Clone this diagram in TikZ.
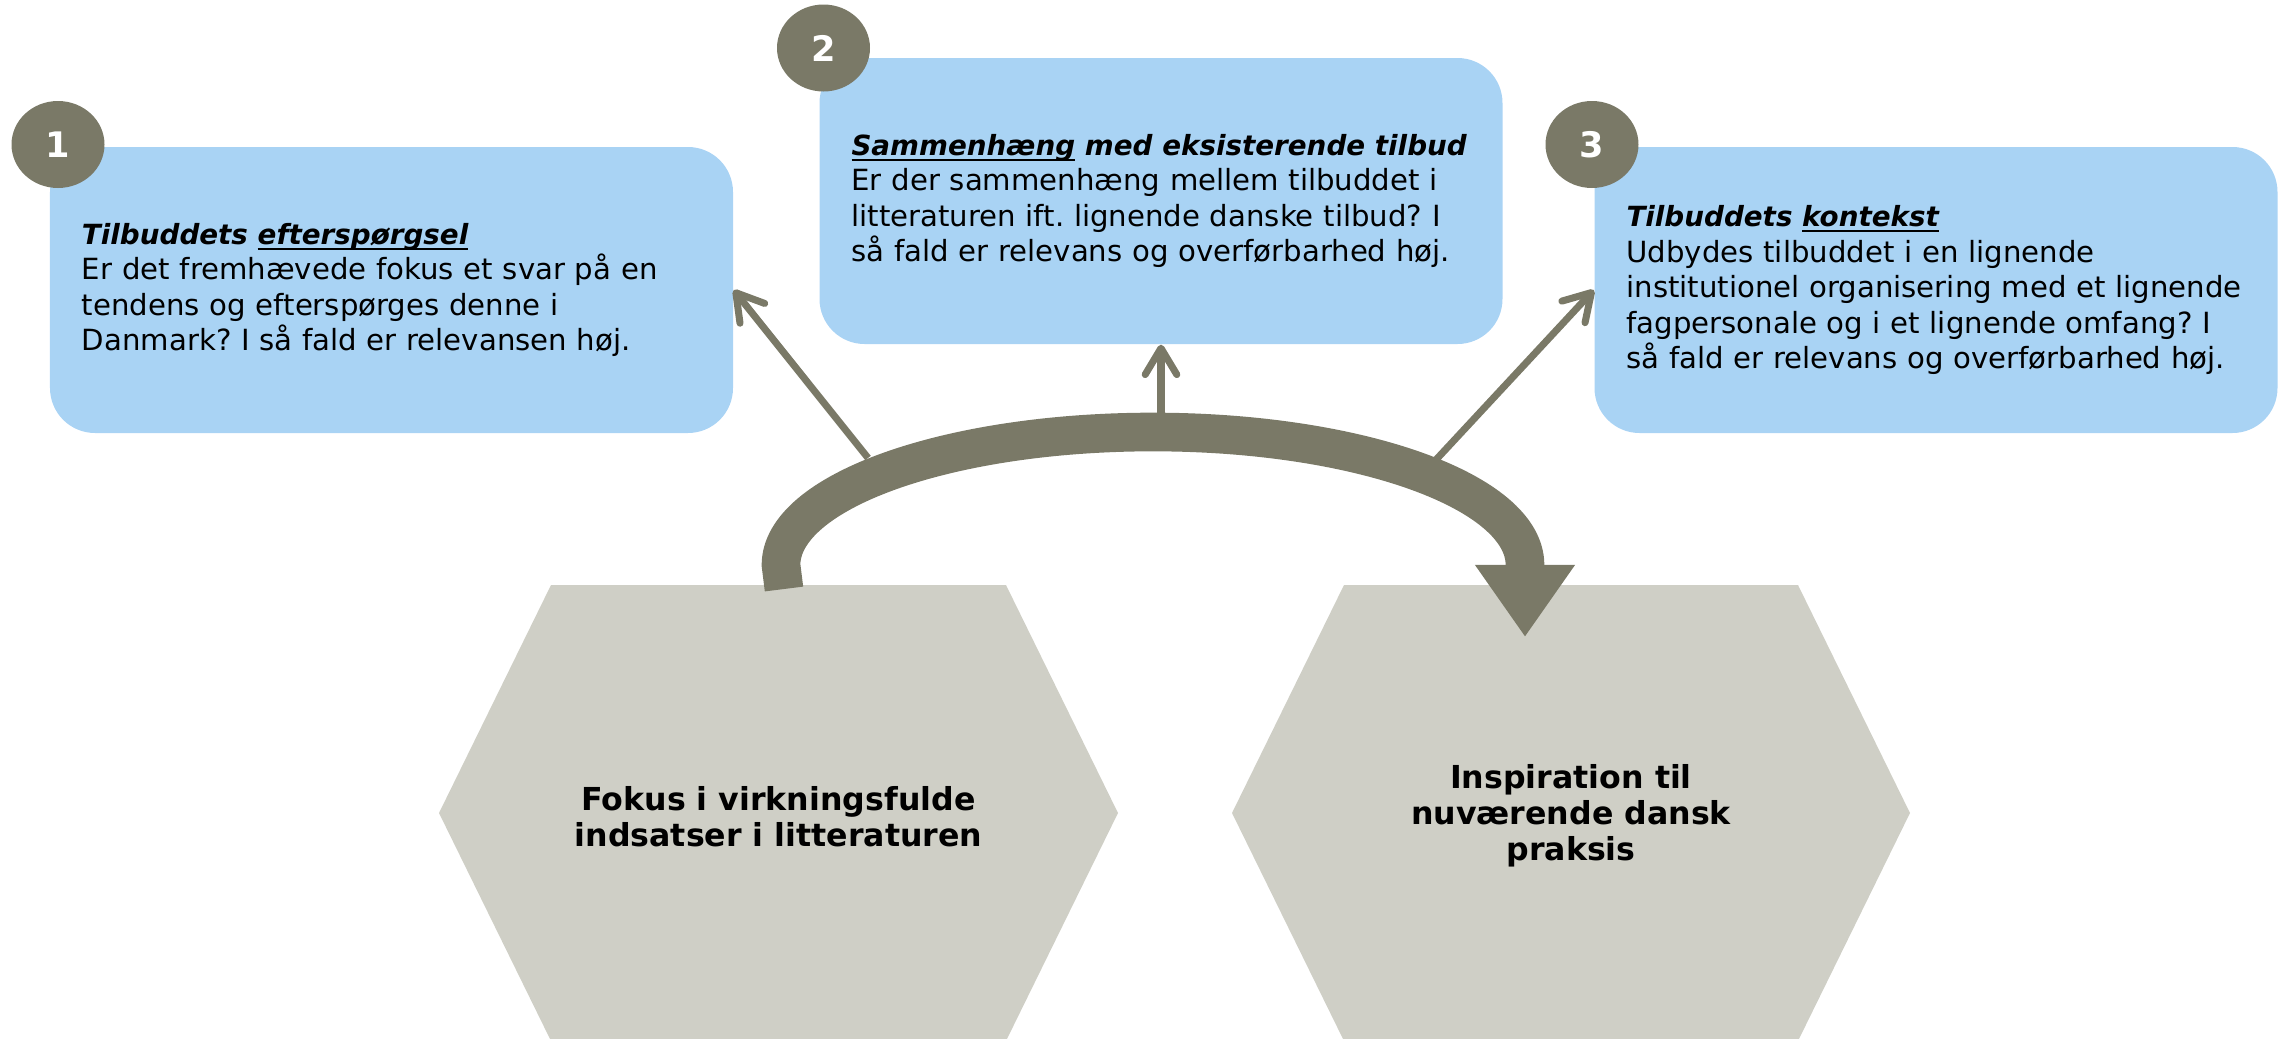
\documentclass[tikz,border=0pt]{standalone}
\usepackage{fontspec}
\setmainfont{DejaVu Sans}
\usetikzlibrary{arrows.meta}
\usetikzlibrary{shapes.geometric}
\definecolor{boxblue}{RGB}{169,211,244}
\definecolor{greyolive}{RGB}{122,121,103}
\definecolor{hexgrey}{RGB}{207,207,198}
\newcommand{\ulword}[1]{\leavevmode\setbox0\hbox{#1}\rlap{\rule[-1.5pt]{\wd0}{0.55pt}}\box0\relax}
\frenchspacing

\begin{document}
\begin{tikzpicture}
\tikzset{box/.style = {fill=boxblue, rounded corners=0.45cm, minimum width=6.83cm, minimum height=2.86cm, text width=6.19cm, inner xsep=0.32cm, align=left, font=\fontsize{8.3}{10.1}\selectfont}}
\tikzset{num/.style = {ellipse, fill=greyolive, minimum width=0.93cm, minimum height=0.87cm, inner sep=0pt, text=white, font=\fontsize{10}{12}\selectfont\bfseries}}
\tikzset{hexlabel/.style = {align=center, font=\fontsize{9}{10.3}\selectfont\bfseries}}
\tikzset{pointer/.style = {draw=greyolive, line width=2pt, -{Straight Barb[length=7.5pt,width=9pt,round]}}}
\tikzset{loop/.style = {draw=greyolive, line width=11pt, -{Triangle[length=20.5pt,width=27pt]}}}
\useasboundingbox (0,0) rectangle (22.85,10.38);
\fill[hexgrey] (5.51,4.53) -- (10.06,4.53) -- (11.18,2.25) -- (10.06,-0.03) -- (5.51,-0.03) -- (4.39,2.25) -- cycle;
\fill[hexgrey] (13.44,4.53) -- (17.98,4.53) -- (19.10,2.25) -- (17.98,-0.03) -- (13.44,-0.03) -- (12.32,2.25) -- cycle;
\node[hexlabel](focus) at (7.785,2.21) {Fokus i virkningsfulde\\indsatser i litteraturen};
\node[hexlabel](inspiration) at (15.71,2.22) {Inspiration til\\nuværende dansk\\praksis};
\node[box](demand) at (3.915,7.48) {{\fontsize{7.9}{10.1}\selectfont\bfseries\itshape Tilbuddets \ulword{efterspørgsel}}\\Er det fremhævede fokus et svar på en\\tendens og efterspørges denne i\\Danmark? I så fald er relevansen høj.};
\node[box](coherence) at (11.61,8.37) {{\fontsize{7.9}{10.1}\selectfont\bfseries\itshape \ulword{Sammenhæng} med eksisterende tilbud}\\Er der sammenhæng mellem tilbuddet i\\litteraturen ift. lignende danske tilbud? I\\så fald er relevans og overførbarhed høj.};
\node[box](context) at (19.36,7.48) {{\fontsize{7.9}{10.1}\selectfont\bfseries\itshape Tilbuddets \ulword{kontekst}}\\Udbydes tilbuddet i en lignende\\institutionel organisering med et lignende\\fagpersonale og i et lignende omfang? I\\så fald er relevans og overførbarhed høj.};
\node[num](n1) at (0.58,8.935) {1};
\node[num](n2) at (8.235,9.90) {2};
\node[num](n3) at (15.92,8.935) {3};
\coordinate (loopstart) at (7.84,4.49);
\coordinate (loopend) at (15.25,4.01);
\coordinate (s1) at (8.68,5.80);
\coordinate (s2) at (11.61,6.25);
\coordinate (s3) at (14.33,5.75);
\draw[pointer] (s1) -- (demand.east);
\draw[pointer] (s2) -- (coherence.south);
\draw[pointer] (s3) -- (context.west);
\draw[loop] (loopstart) -- (7.81,4.73) arc[start angle=180, end angle=0, x radius=3.72cm, y radius=1.33cm] -- (loopend);
\end{tikzpicture}
\end{document}
